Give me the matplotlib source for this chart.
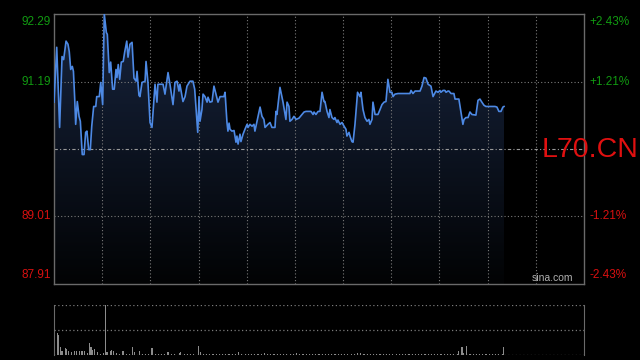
import matplotlib
matplotlib.use("Agg")
import matplotlib.pyplot as plt
import matplotlib.transforms as mtransforms
from matplotlib.colors import LinearSegmentedColormap
import numpy as np

plt.rcParams['font.family'] = ['Liberation Sans', 'DejaVu Sans']

# ---- data ----
prev_close = 90.10
price_ticks = [92.29, 91.19, 89.01, 87.91]
pct_ticks = ['+2.43%', '+1.21%', '-1.21%', '-2.43%']
total_minutes = 330   # 9:30-12:00 + 13:00-16:00

minutes = [0.0, 1.7, 3.5, 5.0, 6.0, 7.5, 8.7, 9.5, 10.4, 11.4, 12.1, 12.9, 13.5, 14.5,
           15.6, 16.4, 17.0, 17.6, 18.7, 19.7, 20.5, 21.6, 22.6, 23.5, 24.7, 26.0, 26.6,
           28.2, 29.1, 30.3, 31.3, 32.6, 33.2, 34.4, 35.3, 36.5, 37.5, 38.6, 39.2, 40.0,
           40.9, 41.9, 43.1, 44.0, 45.3, 46.1, 47.3, 48.6, 49.8, 51.1, 51.7, 52.9, 53.5,
           54.8, 56.7, 57.3, 58.5, 59.8, 61.0, 62.9, 64.1, 64.7, 67.9, 69.1, 71.0, 72.2,
           74.1, 75.3, 76.6, 77.8, 78.4, 80.3, 81.6, 82.8, 84.7, 86.5, 87.6, 89.5, 90.3,
           90.9, 92.1, 92.8, 94.0, 95.3, 95.9, 97.1, 98.4, 99.6, 102.1, 103.4, 105.8, 106.5,
           107.7, 108.3, 109.0, 109.6, 110.8, 112.1, 113.3, 113.9, 114.6, 115.8, 116.4,
           117.7, 118.9, 120.2, 120.8, 122.0, 123.3, 124.5, 125.1, 126.4, 128.3, 129.5,
           130.7, 131.4, 133.2, 134.5, 135.7, 137.6, 138.2, 138.8, 140.7, 142.6, 144.4,
           145.1, 146.3, 146.9, 148.2, 149.4, 150.7, 152.5, 154.4, 155.7, 156.9, 160.0,
           161.3, 161.9, 163.1, 164.4, 165.6, 166.9, 168.1, 168.7, 170.0, 171.2, 171.8,
           173.1, 174.3, 174.9, 176.2, 176.8, 178.1, 179.3, 180.6, 181.8, 182.4, 183.7,
           184.3, 185.5, 186.2, 187.4, 189.0, 190.5, 191.1, 192.4, 193.6, 194.9, 196.1,
           196.7, 198.0, 198.6, 199.9, 201.7, 203.0, 204.2, 205.5, 206.7, 207.9, 209.2,
           210.4, 211.1, 212.3, 214.2, 221.6, 222.3, 223.5, 224.8, 227.9, 229.1, 230.4,
           231.6, 232.9, 234.7, 236.0, 237.8, 239.1, 240.3, 240.9, 242.2, 243.4, 244.1,
           245.3, 245.9, 247.2, 249.0, 249.7, 252.1, 253.4, 254.6, 255.3, 256.5, 257.8,
           259.0, 260.2, 262.7, 264.0, 265.2, 266.4, 267.7, 268.9, 274.6, 275.8, 277.0,
           278.3, 279.5, 280.2]
prices = [90.86, 91.75, 90.45, 91.60, 91.55, 91.85, 91.80, 91.68, 91.39, 91.44, 91.36, 90.91,
          90.50, 90.87, 90.63, 90.55, 90.29, 90.01, 90.01, 90.37, 90.39, 90.09, 90.09, 90.47,
          90.79, 90.79, 90.95, 90.95, 91.18, 90.82, 92.29, 91.99, 91.96, 91.34, 91.51, 91.07,
          91.07, 91.39, 91.26, 91.47, 91.23, 91.51, 91.52, 91.67, 91.85, 91.59, 91.80, 91.83,
          91.25, 91.20, 91.36, 90.97, 90.95, 91.18, 91.20, 91.52, 91.18, 90.53, 90.45, 91.15,
          90.86, 91.15, 91.15, 90.99, 91.34, 91.15, 90.82, 91.18, 91.20, 91.04, 91.15, 90.87,
          90.95, 91.12, 91.20, 91.20, 91.07, 90.37, 90.95, 90.55, 90.74, 90.99, 90.95, 90.86,
          90.94, 90.86, 90.87, 91.12, 90.86, 90.95, 90.95, 91.02, 90.53, 90.39, 90.52, 90.42,
          90.39, 90.40, 90.21, 90.31, 90.18, 90.34, 90.22, 90.34, 90.42, 90.50, 90.45, 90.50,
          90.47, 90.50, 90.39, 90.55, 90.78, 90.63, 90.58, 90.45, 90.50, 90.53, 90.45, 90.45,
          90.71, 90.66, 91.10, 90.86, 90.58, 90.86, 90.79, 90.55, 90.58, 90.63, 90.58, 90.60,
          90.66, 90.70, 90.71, 90.71, 90.66, 90.70, 90.66, 90.71, 90.71, 91.02, 90.87, 90.87,
          90.71, 90.61, 90.74, 90.61, 90.58, 90.61, 90.53, 90.57, 90.50, 90.53, 90.47, 90.42,
          90.31, 90.37, 90.31, 90.22, 90.21, 90.50, 91.02, 90.95, 91.02, 90.74, 90.61, 90.55,
          90.58, 90.50, 90.58, 90.86, 90.66, 90.66, 90.74, 90.82, 90.86, 90.87, 91.23, 91.02,
          91.02, 90.95, 90.99, 91.00, 91.00, 91.05, 91.00, 91.04, 91.04, 91.12, 91.26, 91.25,
          91.15, 91.12, 90.95, 91.04, 91.02, 91.05, 91.02, 91.05, 91.05, 91.02, 91.04, 91.04,
          91.00, 91.00, 90.91, 90.91, 90.70, 90.50, 90.58, 90.61, 90.61, 90.70, 90.66, 90.65,
          90.89, 90.91, 90.86, 90.81, 90.79, 90.79, 90.78, 90.71, 90.71, 90.78, 90.79]

vol_minutes = [0, 2, 3, 4, 5, 7, 8, 9, 11, 13, 14, 16, 17, 18, 19, 21, 22, 23, 24, 25, 27,
               29, 31, 32, 33, 35, 36, 37, 39, 41, 43, 45, 47, 49, 50, 53, 55, 57, 59, 61,
               63, 65, 67, 69, 71, 73, 75, 78, 79, 81, 83, 85, 87, 90, 91, 93, 95, 97, 99,
               101, 103, 105, 107, 109, 111, 113, 115, 117, 119, 121, 123, 125, 127, 129,
               131, 133, 135, 137, 139, 141, 143, 145, 147, 149, 151, 153, 155, 157, 159,
               161, 163, 165, 167, 169, 171, 173, 175, 177, 179, 181, 183, 185, 187, 189,
               191, 193, 195, 197, 199, 201, 203, 205, 207, 209, 211, 213, 215, 217, 219,
               221, 223, 225, 227, 229, 231, 233, 235, 237, 239, 241, 243, 245, 247, 249,
               251, 252, 254, 255, 257, 259, 261, 263, 265, 267, 269, 271, 273, 275, 277,
               279, 280]
volumes = [137, 217, 197, 77, 43, 67, 60, 37, 27, 43, 37, 37, 37, 43, 43, 17, 117, 83, 50,
           60, 27, 10, 17, 490, 27, 37, 50, 37, 23, 10, 43, 10, 10, 83, 27, 43, 10, 10, 10,
           67, 10, 10, 10, 10, 27, 10, 10, 20, 27, 10, 10, 10, 10, 93, 27, 10, 10, 10, 10,
           10, 10, 10, 10, 10, 10, 10, 33, 10, 10, 10, 10, 10, 10, 10, 20, 10, 10, 10, 10,
           10, 10, 10, 10, 10, 20, 10, 10, 10, 10, 10, 10, 10, 10, 10, 10, 10, 10, 10, 10,
           10, 10, 10, 10, 15, 23, 10, 10, 10, 10, 10, 10, 10, 10, 10, 10, 10, 10, 10, 10,
           10, 10, 10, 10, 10, 10, 10, 10, 10, 10, 10, 10, 10, 10, 10, 10, 43, 77, 20, 87,
           10, 10, 10, 10, 10, 10, 10, 10, 10, 10, 10, 77]

# ---- colours ----
green = '#119a11'
red = '#d81010'
grid_c = '#7a7a7a'
border_c = '#6a6a6a'

fig = plt.figure(figsize=(6.4, 3.6), dpi=100, facecolor='black')

# ---- price panel ----
ax = fig.add_axes([54/640, 76/360, 530/640, 270/360])
ax.set_facecolor('black')
ymin, ymax = price_ticks[-1], price_ticks[0]
ax.set_xlim(0, total_minutes)
ax.set_ylim(ymin, ymax)

# gradient fill under the line
poly = ax.fill_between(minutes, prices, ymin, color='none', lw=0)
cmap = LinearSegmentedColormap.from_list('fill', ['#020304', '#17243e'])
grad = np.linspace(1, 0, 256).reshape(-1, 1)
im = ax.imshow(grad, cmap=cmap, extent=[0, total_minutes, ymin, ymax],
               aspect='auto', origin='upper', zorder=1)
im.set_clip_path(poly.get_paths()[0], transform=ax.transData)

for k in range(1, 11):
    ax.axvline(k * 30, color=grid_c, ls=(0, (1, 2)), lw=0.8, zorder=2)
for p in price_ticks[1:3]:
    ax.axhline(p, color=grid_c, ls=(0, (1, 2)), lw=0.8, zorder=2)
ax.axhline(prev_close, color='#9a9a9a', ls=(0, (3, 2, 1, 2)), lw=0.8, zorder=2)

ax.plot(minutes, prices, color='#4d89e4', lw=1.2, zorder=3)

ax.set_xticks([])
ax.set_yticks([])
for s in ax.spines.values():
    s.set_color(border_c)
    s.set_linewidth(1)

trans_l = mtransforms.blended_transform_factory(ax.transAxes, ax.transData)
for i, (p, lab) in enumerate(zip(price_ticks, pct_ticks)):
    col = green if p > prev_close else red
    va = 'center'
    off = 0
    if i == 0:
        va, off = 'top', -0.03
    elif i == len(price_ticks) - 1:
        va, off = 'bottom', 0.05
    ax.text(-0.006, p + off, f'{p:.2f}', transform=trans_l, ha='right', va=va,
            color=col, fontsize=8.5)
    ax.text(1.011, p + off, lab, transform=trans_l, ha='left', va=va,
            color=col, fontsize=8.5)

ax.text(0.98, 0.005, 'sina.com', transform=ax.transAxes, ha='right', va='bottom',
        color='#b0b0b0', fontsize=7.5)
ax.text(1.012, 0.496, 'L70.CN', transform=ax.transAxes, ha='center', va='center',
        color='#e01010', fontsize=20.5, clip_on=False, zorder=5)

# ---- volume panel ----
vax = fig.add_axes([54/640, 5/360, 530/640, 50/360])
vax.set_facecolor('black')
vax.set_xlim(0, total_minutes)
vax.set_ylim(0, max(volumes))
vax.bar(vol_minutes, volumes, width=0.7, color='#8c8c8c', zorder=2)
for f in [0.0, 0.5, 1.0]:
    vax.axhline(max(volumes) * f, color=grid_c, ls=(0, (1, 2)), lw=0.9, zorder=3)
vax.set_xticks([])
vax.set_yticks([])
vax.spines['top'].set_visible(False)
vax.spines['bottom'].set_visible(False)
vax.spines['left'].set_color(border_c)
vax.spines['right'].set_color(border_c)

fig.savefig('out.png', dpi=100, facecolor='black')
